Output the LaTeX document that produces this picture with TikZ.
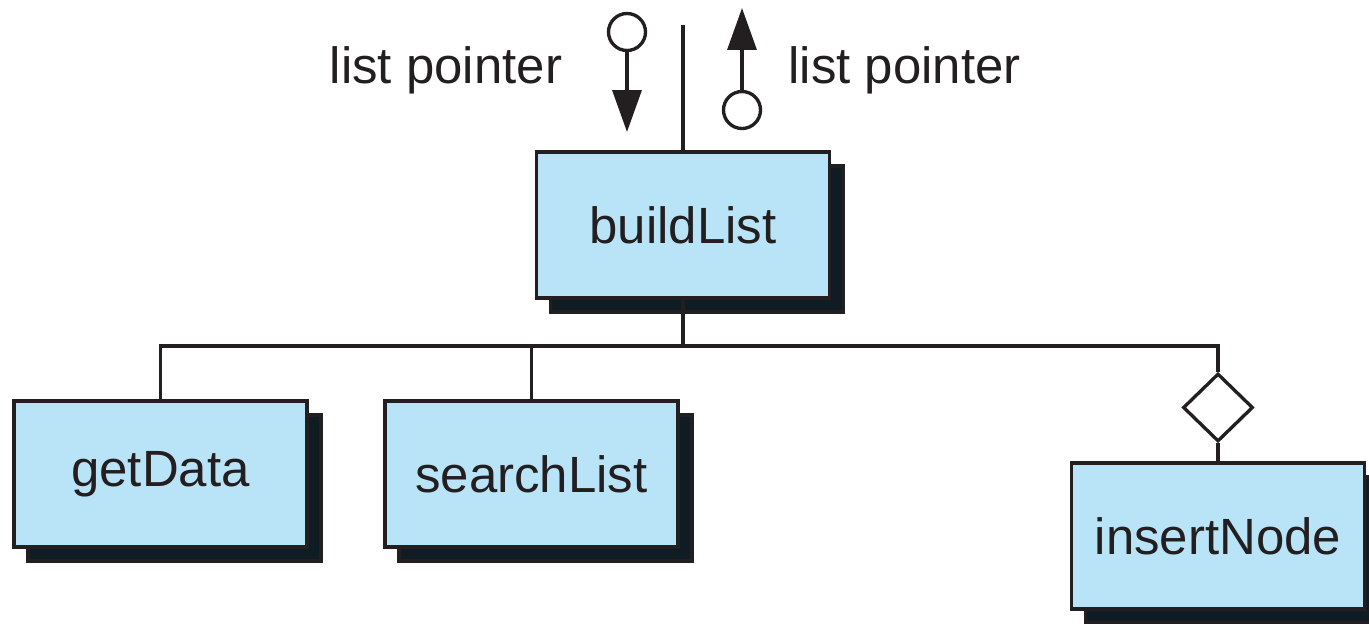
\documentclass[tikz,border=0pt]{standalone}
\usepackage{fontspec}
\setmainfont{Liberation Sans}
\usetikzlibrary{shapes.geometric, shadows, arrows.meta}
\definecolor{boxfill}{HTML}{B9E4F8}
\definecolor{boxshade}{HTML}{0F1C24}
\definecolor{ink}{HTML}{231F20}
\begin{document}
\begin{tikzpicture}[x=0.02cm, y=-0.02cm, line width=2.1pt, color=ink,
            module/.style={rectangle, draw=ink, fill=boxfill, line width=2pt,
                minimum width=5.86cm, minimum height=2.92cm, font=\fontsize{29}{34}\selectfont,
                drop shadow={shadow xshift=0.28cm, shadow yshift=-0.28cm, fill=boxshade, draw=ink, opacity=1}},
            flag/.style={circle, draw=ink, fill=white, line width=1.9pt, minimum size=0.74cm, inner sep=0pt},
            txt/.style={anchor=base, inner sep=0pt, font=\fontsize{29}{34}\selectfont},
            pass/.style={line width=2pt, -{Triangle[length=0.84cm, width=0.58cm]}}]
            \useasboundingbox (0,0) rectangle (1369,623);
            \node [module] (build) at (683,225) {buildList};
            \node [module] (get) at (160.5,474) {getData};
            \node [module] (search) at (531.5,474) {searchList};
            \node [module] (insert) at (1218,536) {insertNode};
            \node [diamond, draw=ink, fill=white, line width=1.9pt, inner sep=0pt,
                minimum width=1.4cm, minimum height=1.36cm] (cond) at (1218,407.5) {};
            \node [flag] (down) at (627,32) {};
            \node [flag] (up) at (742,110) {};
            \node [txt] (lpin) at (446,83) {list pointer};
            \node [txt] (lpout) at (904.5,83) {list pointer};
            \coordinate (top) at (683,25);
            \coordinate (bus) at (683,346);
            \coordinate (downtip) at (627,132);
            \coordinate (uptip) at (742,8);
            \path [draw] (build) edge (top);
            \path [draw] (build) edge (bus);
            \draw (bus) -| (get);
            \draw (bus) -| (search);
            \draw (bus) -| (cond);
            \path [draw] (cond) edge (insert);
            \draw [pass] (down) -- (downtip);
            \draw [pass] (up) -- (uptip);
        \end{tikzpicture}
\end{document}
